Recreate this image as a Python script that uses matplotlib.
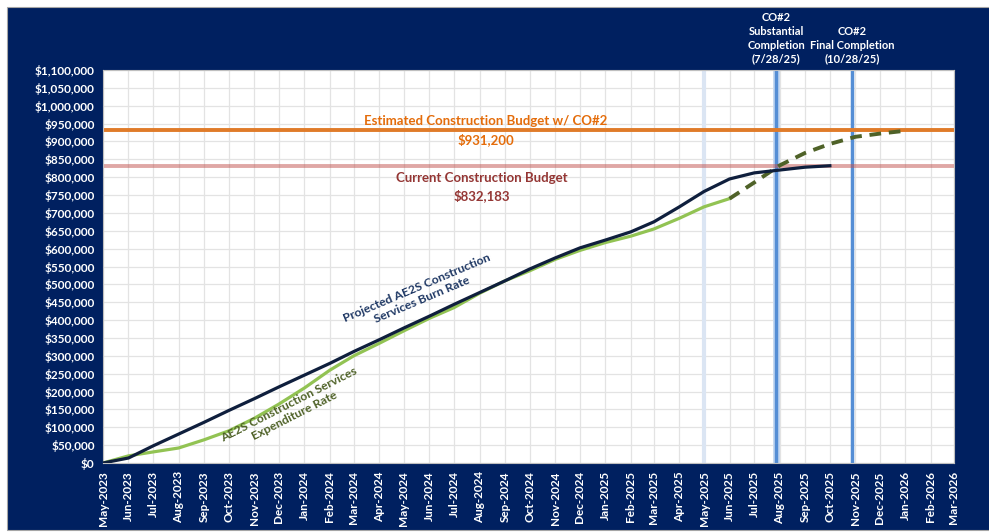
import matplotlib
matplotlib.use("Agg")
import matplotlib.pyplot as plt
from matplotlib.patches import Rectangle
from matplotlib.ticker import FuncFormatter, MultipleLocator
import pandas as pd

plt.rcParams['font.family'] = ['Lato', 'DejaVu Sans']

NAVY_BG = '#002060'

months = pd.date_range('2023-05-01', '2026-03-01', freq='MS')

# projected burn rate, May-2023 .. Oct-2025
burn_rate = [0, 14000, 48000, 81000, 114000, 147000, 180000, 213000, 246000,
             279000, 312000, 345000, 378000, 411000, 444000, 477000, 510000,
             543000, 574000, 602000, 624000, 647000, 675000, 717000, 760000,
             795000, 812000, 820000, 828000, 832000]
# actual expenditure, May-2023 .. Jun-2025
expenditure = [0, 20000, 31000, 42000, 65000, 90000, 125000, 165000, 210000,
               260000, 300000, 335000, 370000, 405000, 435000, 475000, 510000,
               538000, 570000, 595000, 617000, 635000, 655000, 685000, 717000,
               740000]
# forecast expenditure, Jun-2025 .. Jan-2026
forecast = [740000, 785000, 833000, 868000, 893000, 913000, 922000, 930000]

budget_co2 = 931200
budget_current = 832183
substantial = pd.Timestamp('2025-07-28')
final = pd.Timestamp('2025-10-28')
highlight = pd.Timestamp('2025-05-01')

fig = plt.figure(figsize=(9.89, 5.32), dpi=100)
fig.patches.append(Rectangle((7 / 989, 2 / 532), 1, 523 / 532, transform=fig.transFigure,
                             facecolor=NAVY_BG, edgecolor='#a6a6a6', lw=0.8, zorder=-1))
ax = fig.add_axes([103 / 989, 69 / 532, 851 / 989, 393 / 532])
ax.set_facecolor('white')

ax.set_xlim(months[0], months[-1])
ax.set_ylim(0, 1100000)
ax.set_xticks(months)
ax.set_xticklabels([m.strftime('%b-%Y') for m in months], rotation=90)
ax.yaxis.set_major_locator(MultipleLocator(50000))
ax.yaxis.set_major_formatter(FuncFormatter(lambda v, p: f'${v:,.0f}'))
ax.tick_params(colors='white', labelsize=8.5, length=0, pad=6)
for lbl in ax.get_xticklabels() + ax.get_yticklabels():
    lbl.set_fontweight('bold')
ax.grid(True, color='#e3e3e3', lw=0.9)
ax.set_axisbelow(True)
for s in ax.spines.values():
    s.set_color('#bfbfbf')

ax.axvline(highlight, color='#dbe5f3', lw=3, zorder=1)
ax.axvline(substantial, color='#c6d9f1', lw=5, zorder=1)
ax.axvline(substantial, color='#558ed5', lw=2.5, zorder=1)
ax.axvline(final, color='#558ed5', lw=2.5, zorder=1)

ax.axhline(budget_co2, color='#e07b29', lw=2.8, zorder=2)
ax.axhline(budget_current, color='#c0504d', lw=2.8, alpha=0.5, zorder=2)

ax.plot(months[:len(burn_rate)], burn_rate, color='#0f1f3d', lw=2.3, zorder=4)
ax.plot(months[:len(expenditure)], expenditure, color='#92c353', lw=2.3, zorder=3)
ax.plot(months[len(expenditure) - 1:len(expenditure) - 1 + len(forecast)], forecast,
        color='#4f6228', lw=2.8, ls=(0, (3, 2)), zorder=3)

ax.text(0.45, budget_co2 + 9000, 'Estimated Construction Budget w/ CO#2', color='#e46c0a',
        fontsize=9.5, fontweight='bold', ha='center', va='bottom', transform=ax.get_yaxis_transform())
ax.text(0.45, budget_co2 - 7000, '$931,200', color='#e46c0a',
        fontsize=9.5, fontweight='bold', ha='center', va='top', transform=ax.get_yaxis_transform())
ax.text(0.445, budget_current - 18000, 'Current Construction Budget\n$832,183', color='#943634',
        fontsize=9.5, fontweight='bold', ha='center', va='top', linespacing=1.45,
        transform=ax.get_yaxis_transform())

ax.text(0.372, 0.43, 'Projected AE2S Construction\nServices Burn Rate', color='#1f3864',
        fontsize=8.8, fontweight='bold', ha='center', va='center', rotation=23,
        transform=ax.transAxes)
ax.text(0.222, 0.135, 'AE2S Construction Services\nExpenditure Rate', color='#4f6228',
        fontsize=8.8, fontweight='bold', ha='center', va='center', rotation=27,
        transform=ax.transAxes)

ax.annotate('CO#2\nSubstantial\nCompletion\n(7/28/25)', xy=(substantial, 1100000),
            xytext=(0, 4), textcoords='offset points', ha='center', va='bottom',
            color='white', fontsize=8, fontweight='bold', linespacing=1.3,
            annotation_clip=False)
ax.annotate('CO#2\nFinal Completion\n(10/28/25)', xy=(final, 1100000),
            xytext=(0, 4), textcoords='offset points', ha='center', va='bottom',
            color='white', fontsize=8, fontweight='bold', linespacing=1.3,
            annotation_clip=False)

fig.savefig('out.png', dpi=100, facecolor='white')
plt.close(fig)
